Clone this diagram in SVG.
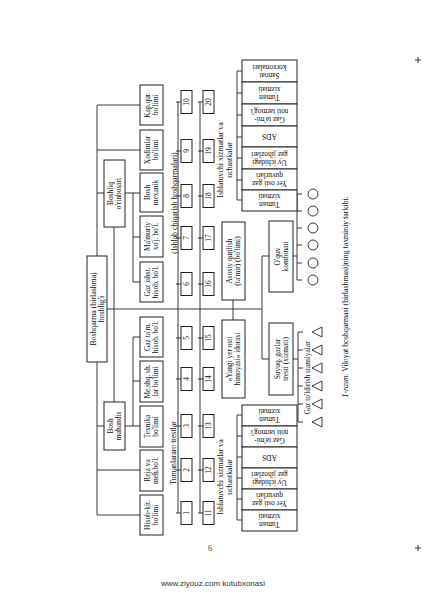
<svg xmlns="http://www.w3.org/2000/svg" width="426" height="595" viewBox="0 0 426 595">
<style>
.b{fill:#fff;stroke:#222;stroke-width:1}
.l{stroke:#222;stroke-width:0.9;fill:none}
.t{font-family:"Liberation Serif","Times New Roman",serif;font-size:7.4px;fill:#111;text-anchor:middle}
.n{font-family:"Liberation Serif","Times New Roman",serif;font-size:7.4px;fill:#111;text-anchor:middle}
.c{font-family:"Liberation Serif","Times New Roman",serif;font-size:7.8px;fill:#111;text-anchor:middle}
</style>
<rect width="426" height="595" fill="#fff"/>

<g id="connectors" class="l">
  <path d="M97 105V256M97 362V515"/>
  <path d="M97 105H140M97 150H140M97 193H104M97 426H104M97 470H140M97 515H140"/>
  <path d="M114 227V402"/>
  <path d="M125 193H133M133 193V282M133 193H140M133 237H140M133 282H140"/>
  <path d="M125 426H133M133 337V426M133 337H140M133 381H140M133 426H140"/>
  <path d="M107 309H262"/>
  <path d="M178 102V513M176 102H181M176 151H181M176 196H181M176 238H181M176 284H181M176 338H181M176 379H181M176 426H181M176 470H181M176 513H181"/>
  <path d="M200 102V513M198 102H203M198 151H203M198 196H203M198 238H203M198 284H203M198 338H203M198 379H203M198 426H203M198 470H203M198 513H203"/>
  <path d="M233 300V320"/>
  <path d="M262 256V359M262 256H269M262 359H269"/>
  <path d="M293 256H297M297 194V280M297 194H302M297 211H302M297 228H302M297 245H302M297 263H302M297 280H302"/>
  <path d="M293 359H298M298 332V422M298 332H303M298 350H303M298 368H303M298 386H303M298 404H303M298 422H303"/>
  <path d="M237 71V200M237 71H242M237 93H242M237 115H242M237 137H242M237 158H242M237 180H242M237 200H242"/>
  <path d="M237 415V520M237 415H242M237 436H242M237 457H242M237 478H242M237 499H242M237 520H242"/>
</g>

<g id="main">
  <rect class="b" x="87" y="256" width="20" height="106"/>
  <text class="c" transform="translate(97 309) rotate(-90)"><tspan x="0" y="-1.5">Boshqarma (birlashma)</tspan><tspan x="0" y="6.5">boshlig'i</tspan></text>
</g>
<g id="deputy1">
  <rect class="b" x="104" y="160" width="21" height="67"/>
  <text class="t" transform="translate(114.5 193.5) rotate(-90)"><tspan x="0" y="-1.5">Boshliq</tspan><tspan x="0" y="6.5">o'rinbosari</tspan></text>
</g>
<g id="deputy2">
  <rect class="b" x="104" y="402" width="21" height="48"/>
  <text class="t" transform="translate(114.5 426) rotate(-90)"><tspan x="0" y="-1.5">Bosh</tspan><tspan x="0" y="6.5">muhandis</tspan></text>
</g>

<g id="d1"><rect class="b" x="140" y="85" width="23" height="40"/><text class="t" transform="translate(151.5 105) rotate(-90)"><tspan x="0" y="-1.5">Kap.qur.</tspan><tspan x="0" y="6.5">bo'limi</tspan></text></g>
<g id="d2"><rect class="b" x="140" y="130" width="23" height="40"/><text class="t" transform="translate(151.5 150) rotate(-90)"><tspan x="0" y="-1.5">Xodimlar</tspan><tspan x="0" y="6.5">bo'limi</tspan></text></g>
<g id="d3"><rect class="b" x="140" y="173" width="23" height="39"/><text class="t" transform="translate(151.5 192.5) rotate(-90)"><tspan x="0" y="-1.5">Bosh</tspan><tspan x="0" y="6.5">mexanik</tspan></text></g>
<g id="d4"><rect class="b" x="140" y="216" width="23" height="41"/><text class="t" transform="translate(151.5 236.5) rotate(-90)"><tspan x="0" y="-1.5">Ma'muriy</tspan><tspan x="0" y="6.5">xo'j. bo'l.</tspan></text></g>
<g id="d5"><rect class="b" x="140" y="262" width="23" height="40"/><text class="t" transform="translate(151.5 282) rotate(-90)"><tspan x="0" y="-1.5">Gaz ishst.</tspan><tspan x="0" y="6.5">hisob. bo'l.</tspan></text></g>
<g id="d6"><rect class="b" x="140" y="317" width="23" height="40"/><text class="t" transform="translate(151.5 337) rotate(-90)"><tspan x="0" y="-1.5">Gaz ta'm.</tspan><tspan x="0" y="6.5">hisob. bo'l.</tspan></text></g>
<g id="d7"><rect class="b" x="140" y="361" width="23" height="41"/><text class="t" transform="translate(151.5 381.5) rotate(-90)"><tspan x="0" y="-1.5">Me.shq. sh.</tspan><tspan x="0" y="6.5">lar bo'limi</tspan></text></g>
<g id="d8"><rect class="b" x="140" y="406" width="23" height="41"/><text class="t" transform="translate(151.5 426.5) rotate(-90)"><tspan x="0" y="-1.5">Texnika</tspan><tspan x="0" y="6.5">bo'limi</tspan></text></g>
<g id="d9"><rect class="b" x="140" y="450" width="23" height="41"/><text class="t" transform="translate(151.5 470.5) rotate(-90)"><tspan x="0" y="-1.5">Reja va</tspan><tspan x="0" y="6.5">meh.bo'l.</tspan></text></g>
<g id="d10"><rect class="b" x="140" y="495" width="23" height="40"/><text class="t" transform="translate(151.5 515) rotate(-90)"><tspan x="0" y="-1.5">Hisob-kit.</tspan><tspan x="0" y="6.5">bo'limi</tspan></text></g>

<text class="c" transform="translate(177 203) rotate(-90)">(Ishlab chiqarish boshqarmalari)</text>
<text class="c" transform="translate(176 453) rotate(-90)">Tumanlararo trestlar</text>

<g id="n10"><rect class="b" x="181" y="90.5" width="11" height="23"/><text class="n" transform="translate(189 102) rotate(-90)">10</text></g>
<g id="n9"><rect class="b" x="181" y="139.5" width="11" height="23"/><text class="n" transform="translate(189 151) rotate(-90)">9</text></g>
<g id="n8"><rect class="b" x="181" y="184.5" width="11" height="23"/><text class="n" transform="translate(189 196) rotate(-90)">8</text></g>
<g id="n7"><rect class="b" x="181" y="226.5" width="11" height="23"/><text class="n" transform="translate(189 238) rotate(-90)">7</text></g>
<g id="n6"><rect class="b" x="181" y="272.5" width="11" height="23"/><text class="n" transform="translate(189 284) rotate(-90)">6</text></g>
<g id="n5"><rect class="b" x="181" y="326.5" width="11" height="23"/><text class="n" transform="translate(189 338) rotate(-90)">5</text></g>
<g id="n4"><rect class="b" x="181" y="367.5" width="11" height="23"/><text class="n" transform="translate(189 379) rotate(-90)">4</text></g>
<g id="n3"><rect class="b" x="181" y="414.5" width="11" height="23"/><text class="n" transform="translate(189 426) rotate(-90)">3</text></g>
<g id="n2"><rect class="b" x="181" y="458.5" width="11" height="23"/><text class="n" transform="translate(189 470) rotate(-90)">2</text></g>
<g id="n1"><rect class="b" x="181" y="501.5" width="11" height="23"/><text class="n" transform="translate(189 513) rotate(-90)">1</text></g>

<g id="n20"><rect class="b" x="203" y="90.5" width="11" height="23"/><text class="n" transform="translate(211 102) rotate(-90)">20</text></g>
<g id="n19"><rect class="b" x="203" y="139.5" width="11" height="23"/><text class="n" transform="translate(211 151) rotate(-90)">19</text></g>
<g id="n18"><rect class="b" x="203" y="184.5" width="11" height="23"/><text class="n" transform="translate(211 196) rotate(-90)">18</text></g>
<g id="n17"><rect class="b" x="203" y="226.5" width="11" height="23"/><text class="n" transform="translate(211 238) rotate(-90)">17</text></g>
<g id="n16"><rect class="b" x="203" y="272.5" width="11" height="23"/><text class="n" transform="translate(211 284) rotate(-90)">16</text></g>
<g id="n15"><rect class="b" x="203" y="326.5" width="11" height="23"/><text class="n" transform="translate(211 338) rotate(-90)">15</text></g>
<g id="n14"><rect class="b" x="203" y="367.5" width="11" height="23"/><text class="n" transform="translate(211 379) rotate(-90)">14</text></g>
<g id="n13"><rect class="b" x="203" y="414.5" width="11" height="23"/><text class="n" transform="translate(211 426) rotate(-90)">13</text></g>
<g id="n12"><rect class="b" x="203" y="458.5" width="11" height="23"/><text class="n" transform="translate(211 470) rotate(-90)">12</text></g>
<g id="n11"><rect class="b" x="203" y="501.5" width="11" height="23"/><text class="n" transform="translate(211 513) rotate(-90)">11</text></g>

<text class="c" transform="translate(223 160) rotate(-90)"><tspan x="0" y="0">Ishlatuvchi xizmatlar va</tspan><tspan x="0" y="8.5">uchastkalar</tspan></text>
<text class="c" transform="translate(223 477) rotate(-90)"><tspan x="0" y="0">Ishlatuvchi xizmatlar va</tspan><tspan x="0" y="8.5">uchastkalar</tspan></text>

<g id="asosiy"><rect class="b" x="222" y="222" width="23" height="78"/><text class="t" transform="translate(233.5 261) rotate(-90)"><tspan x="0" y="-1.5">Asosiy qurilish</tspan><tspan x="0" y="6.5">(ta'mir) (bo'limi)</tspan></text></g>
<g id="yangi"><rect class="b" x="222" y="320" width="23" height="78"/><text class="t" transform="translate(233.5 359) rotate(-90)"><tspan x="0" y="-1.5">«Yangi yer osti</tspan><tspan x="0" y="6.5">himoyasi» idorasi</tspan></text></g>

<g id="oquv"><rect class="b" x="269" y="221" width="24" height="71"/><text class="t" transform="translate(281 256.5) rotate(-90)"><tspan x="0" y="-1.5">O'quv</tspan><tspan x="0" y="6.5">kombinati</tspan></text></g>
<g id="suyuq"><rect class="b" x="269" y="323" width="24" height="72"/><text class="t" transform="translate(281 359) rotate(-90)"><tspan x="0" y="-1.5">Suyuq. gazlar</tspan><tspan x="0" y="6.5">tresti (xizmati)</tspan></text></g>

<g id="circles" class="l">
  <circle cx="313" cy="194" r="5"/><circle cx="313" cy="211" r="5"/><circle cx="313" cy="228" r="5"/>
  <circle cx="313" cy="245" r="5"/><circle cx="313" cy="263" r="5"/><circle cx="313" cy="280" r="5"/>
</g>
<g id="triangles" class="l">
  <path d="M312 332L322 327V337Z"/><path d="M312 350L322 345V355Z"/><path d="M312 368L322 363V373Z"/>
  <path d="M312 386L322 381V391Z"/><path d="M312 404L322 399V409Z"/><path d="M312 422L322 417V427Z"/>
</g>
<text class="t" transform="translate(310 378) rotate(-90)">Gaz to'ldirish stansiyalar</text>

<g id="upper-group">
  <g id="u1"><rect class="b" x="242" y="60" width="55" height="22"/><text class="t" transform="translate(269.5 71) rotate(180)"><tspan x="0" y="-1.5">Sanoat</tspan><tspan x="0" y="6.5">korxonalari</tspan></text></g>
  <g id="u2"><rect class="b" x="242" y="82" width="55" height="22"/><text class="t" transform="translate(269.5 93) rotate(180)"><tspan x="0" y="-1.5">Tuman</tspan><tspan x="0" y="6.5">xizmati</tspan></text></g>
  <g id="u3"><rect class="b" x="242" y="104" width="55" height="22"/><text class="t" transform="translate(269.5 115) rotate(180)"><tspan x="0" y="-1.5">Gaz ta'mi-</tspan><tspan x="0" y="6.5">noti tarmog'i</tspan></text></g>
  <g id="u4"><rect class="b" x="242" y="126" width="55" height="21"/><text class="t" transform="translate(269.5 136.5) rotate(180)"><tspan x="0" y="2.5">ADS</tspan></text></g>
  <g id="u5"><rect class="b" x="242" y="147" width="55" height="22"/><text class="t" transform="translate(269.5 158) rotate(180)"><tspan x="0" y="-1.5">Uy ichidagi</tspan><tspan x="0" y="6.5">gaz jihozlari</tspan></text></g>
  <g id="u6"><rect class="b" x="242" y="169" width="55" height="21"/><text class="t" transform="translate(269.5 179.5) rotate(180)"><tspan x="0" y="-1.5">Yer osti gaz</tspan><tspan x="0" y="6.5">quvurlari</tspan></text></g>
  <g id="u7"><rect class="b" x="242" y="190" width="55" height="21"/><text class="t" transform="translate(269.5 200.5) rotate(180)"><tspan x="0" y="-1.5">Tuman</tspan><tspan x="0" y="6.5">xizmati</tspan></text></g>
</g>
<g id="lower-group">
  <g id="w1"><rect class="b" x="242" y="405" width="55" height="21"/><text class="t" transform="translate(269.5 415.5) rotate(180)"><tspan x="0" y="-1.5">Tuman</tspan><tspan x="0" y="6.5">xizmati</tspan></text></g>
  <g id="w2"><rect class="b" x="242" y="426" width="55" height="21"/><text class="t" transform="translate(269.5 436.5) rotate(180)"><tspan x="0" y="-1.5">Gaz ta'mi-</tspan><tspan x="0" y="6.5">noti tarmog'i</tspan></text></g>
  <g id="w3"><rect class="b" x="242" y="447" width="55" height="21"/><text class="t" transform="translate(269.5 457.5) rotate(180)"><tspan x="0" y="2.5">ADS</tspan></text></g>
  <g id="w4"><rect class="b" x="242" y="468" width="55" height="21"/><text class="t" transform="translate(269.5 478.5) rotate(180)"><tspan x="0" y="-1.5">Uy ichidagi</tspan><tspan x="0" y="6.5">gaz jihozlari</tspan></text></g>
  <g id="w5"><rect class="b" x="242" y="489" width="55" height="21"/><text class="t" transform="translate(269.5 499.5) rotate(180)"><tspan x="0" y="-1.5">Yer osti gaz</tspan><tspan x="0" y="6.5">quvurlari</tspan></text></g>
  <g id="w6"><rect class="b" x="242" y="510" width="55" height="21"/><text class="t" transform="translate(269.5 520.5) rotate(180)"><tspan x="0" y="-1.5">Tuman</tspan><tspan x="0" y="6.5">xizmati</tspan></text></g>
</g>

<text class="c" transform="translate(348 297) rotate(-90)"><tspan font-style="italic">1-rasm.</tspan> Viloyat boshqarmasi (birlashmasi)ning taxminiy tarkibi.</text>
<text x="210" y="551" style="font-family:'Liberation Serif',serif;font-size:8px;fill:#333;text-anchor:middle">6</text>
<text x="213" y="586" style="font-family:'Liberation Sans',Arial,sans-serif;font-size:8px;fill:#333;text-anchor:middle">www.ziyouz.com kutubxonasi</text>
<path class="l" d="M415 60H421M418 57V63M415 548H421M418 545V551" stroke="#888"/>
</svg>
